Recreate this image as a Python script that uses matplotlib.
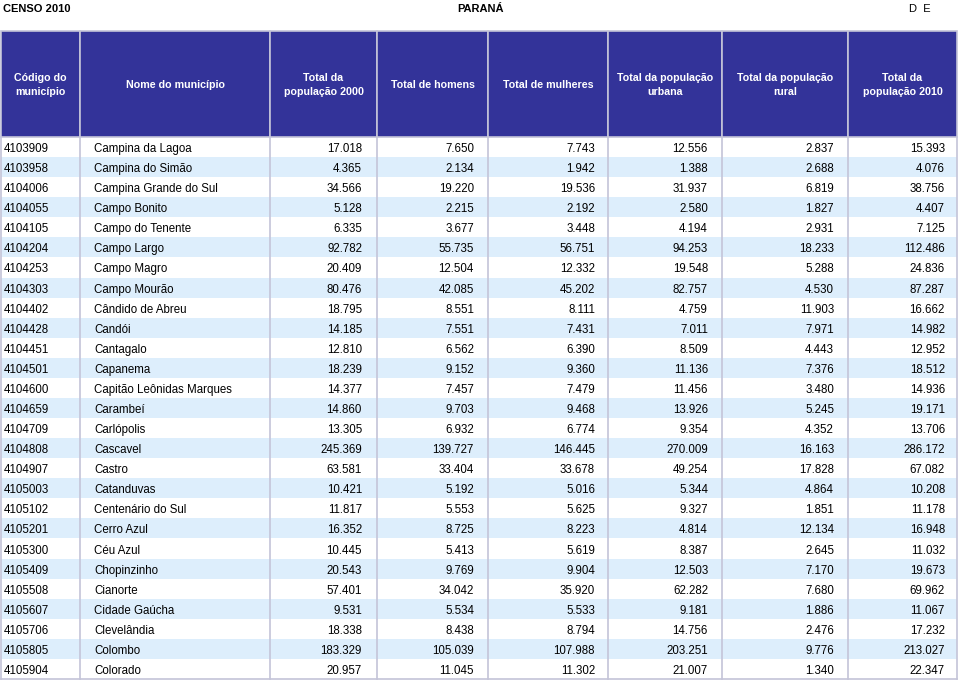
import matplotlib
matplotlib.use("Agg")
import matplotlib.pyplot as plt
from matplotlib.patches import Rectangle

plt.rcParams['font.family'] = ['Liberation Sans', 'DejaVu Sans']

headers = ["Código do\nmunicípio", "Nome do município", "Total da\npopulação 2000",
           "Total de homens", "Total de mulheres", "Total da população\nurbana",
           "Total da população\nrural", "Total da\npopulação 2010"]

codes = ["4103909", "4103958", "4104006", "4104055", "4104105", "4104204", "4104253",
         "4104303", "4104402", "4104428", "4104451", "4104501", "4104600", "4104659",
         "4104709", "4104808", "4104907", "4105003", "4105102", "4105201", "4105300",
         "4105409", "4105508", "4105607", "4105706", "4105805", "4105904"]
names = ["Campina da Lagoa", "Campina do Simão", "Campina Grande do Sul", "Campo Bonito",
         "Campo do Tenente", "Campo Largo", "Campo Magro", "Campo Mourão", "Cândido de Abreu",
         "Candói", "Cantagalo", "Capanema", "Capitão Leônidas Marques", "Carambeí",
         "Carlópolis", "Cascavel", "Castro", "Catanduvas", "Centenário do Sul", "Cerro Azul",
         "Céu Azul", "Chopinzinho", "Cianorte", "Cidade Gaúcha", "Clevelândia", "Colombo",
         "Colorado"]
pop2000 = [17018, 4365, 34566, 5128, 6335, 92782, 20409, 80476, 18795, 14185, 12810, 18239,
           14377, 14860, 13305, 245369, 63581, 10421, 11817, 16352, 10445, 20543, 57401,
           9531, 18338, 183329, 20957]
homens = [7650, 2134, 19220, 2215, 3677, 55735, 12504, 42085, 8551, 7551, 6562, 9152, 7457,
          9703, 6932, 139727, 33404, 5192, 5553, 8725, 5413, 9769, 34042, 5534, 8438,
          105039, 11045]
mulheres = [7743, 1942, 19536, 2192, 3448, 56751, 12332, 45202, 8111, 7431, 6390, 9360, 7479,
            9468, 6774, 146445, 33678, 5016, 5625, 8223, 5619, 9904, 35920, 5533, 8794,
            107988, 11302]
urbana = [12556, 1388, 31937, 2580, 4194, 94253, 19548, 82757, 4759, 7011, 8509, 11136, 11456,
          13926, 9354, 270009, 49254, 5344, 9327, 4814, 8387, 12503, 62282, 9181, 14756,
          203251, 21007]
rural = [2837, 2688, 6819, 1827, 2931, 18233, 5288, 4530, 11903, 7971, 4443, 7376, 3480, 5245,
         4352, 16163, 17828, 4864, 1851, 12134, 2645, 7170, 7680, 1886, 2476, 9776, 1340]
pop2010 = [15393, 4076, 38756, 4407, 7125, 112486, 24836, 87287, 16662, 14982, 12952, 18512,
           14936, 19171, 13706, 286172, 67082, 10208, 11178, 16948, 11032, 19673, 69962,
           11067, 17232, 213027, 22347]


def fmt(v):
    return f"{v:,}".replace(",", ".")


W, H = 960, 683
fig = plt.figure(figsize=(W / 100, H / 100), dpi=100)
ax = fig.add_axes([0, 0, 1, 1])
ax.set_xlim(0, W)
ax.set_ylim(H, 0)
ax.axis("off")

# layout (pixels)
col_edges = [1, 80, 270, 377, 488, 608, 722, 848, 957]
head_top, head_bot = 31, 137
row_h = (679 - head_bot) / len(codes)
header_col = "#333399"
stripe_col = "#DDEEFC"
line_col = "#C4C4D8"
fs = 8.3
fs_head = 7.7

ax.text(3, 9, "CENSO 2010", fontsize=8, fontweight="bold", va="center", ha="left")
ax.text(480, 9, "PARANÁ", fontsize=8, fontweight="bold", va="center", ha="center")
ax.text(920, 9, "D  E", fontsize=8, va="center", ha="center")

# header
for i, h in enumerate(headers):
    x0, x1 = col_edges[i], col_edges[i + 1]
    ax.add_patch(Rectangle((x0, head_top), x1 - x0, head_bot - head_top,
                           facecolor=header_col, edgecolor=line_col, lw=1.2))
    ax.text((x0 + x1) / 2, (head_top + head_bot) / 2 + 1, h, color="white", fontsize=fs_head,
            fontweight="bold", ha="center", va="center", linespacing=1.45)

# body
numeric = [pop2000, homens, mulheres, urbana, rural, pop2010]
right_pad = [15, 14, 13, 14, 14, 12]
for r in range(len(codes)):
    y0 = head_bot + r * row_h
    yc = y0 + row_h / 2 + 0.5
    if r % 2 == 1:
        ax.add_patch(Rectangle((col_edges[0], y0), col_edges[-1] - col_edges[0], row_h,
                               facecolor=stripe_col, edgecolor="none"))
    ax.text(col_edges[0] + 3, yc, codes[r], fontsize=fs, ha="left", va="center_baseline")
    ax.text(col_edges[1] + 14, yc, names[r], fontsize=fs, ha="left", va="center_baseline")
    for c, series in enumerate(numeric):
        ax.text(col_edges[c + 3] - right_pad[c], yc, fmt(series[r]), fontsize=fs,
                ha="right", va="center_baseline")

# vertical grid lines and outer border
body_bot = head_bot + row_h * len(codes)
for x in col_edges:
    ax.plot([x, x], [head_bot, body_bot], color=line_col, lw=1.2)
ax.plot([col_edges[0], col_edges[-1]], [body_bot, body_bot], color=line_col, lw=1.2)

fig.savefig("out.png", dpi=100, facecolor="white")
